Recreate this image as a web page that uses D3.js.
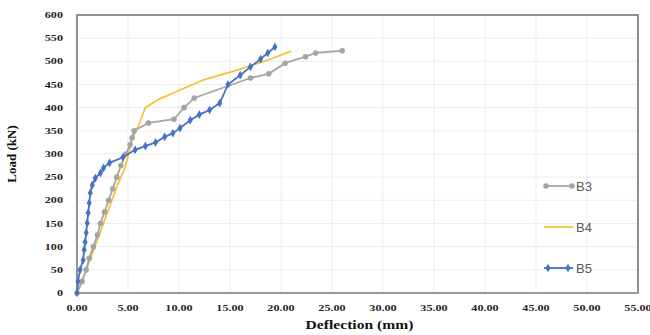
<!DOCTYPE html>
<html>
<head>
<meta charset="utf-8">
<script src="https://cdn.jsdelivr.net/npm/d3@7"></script>
<style>
  body { margin: 0; background: #fff; }
  svg { display: block; }
</style>
</head>
<body>
<div id="chart"></div>
<script>
// Load-deflection data
var b3Defl = [0, 0.5, 0.9, 1.2, 1.6, 2.0, 2.3, 2.7, 3.1, 3.5, 3.9, 4.3, 4.8, 5.2, 5.4, 5.6, 7.0, 9.5, 10.5, 11.5, 17.0, 18.8, 20.4, 22.4, 23.4, 26.0];
var b3Load = [0, 25, 50, 75, 100, 125, 150, 175, 200, 225, 250, 275, 300, 320, 335, 350, 367, 375, 400, 421, 464, 473, 496, 510, 518, 523];

var b4Defl = [0, 1, 2, 3, 4, 4.7, 5.4, 6.0, 6.7, 8, 10, 12.4, 15.7, 19, 21];
var b4Load = [0, 55, 115, 175, 235, 270, 330, 360, 400, 418, 437, 460, 481, 505, 522];

var b5Defl = [0, 0.1, 0.3, 0.6, 0.7, 0.8, 0.9, 1.0, 1.1, 1.2, 1.3, 1.5, 1.8, 2.3, 2.6, 3.2, 4.5, 5.7, 6.7, 7.7, 8.6, 9.4, 10.1, 11.1, 12.0, 13.0, 14.0, 14.8, 16.0, 17.0, 18.0, 18.7, 19.4];
var b5Load = [0, 25, 50, 71, 93, 110, 130, 151, 173, 194, 216, 233, 248, 259, 270, 281, 293, 309, 317, 325, 337, 345, 356, 373, 385, 395, 410, 450, 470, 488, 505, 518, 531];

var xTicks = [0, 5, 10, 15, 20, 25, 30, 35, 40, 45, 50, 55];
var yTicks = [0, 50, 100, 150, 200, 250, 300, 350, 400, 450, 500, 550, 600];
var seriesNames = ["B3", "B4", "B5"];

var width = 650, height = 335;
var pLeft = 77, pRight = 638, pTop = 15, pBottom = 293;

var svg = d3.select("#chart").append("svg")
  .attr("width", width)
  .attr("height", height);

var x = d3.scaleLinear().domain([0, 55]).range([pLeft, pRight]);
var y = d3.scaleLinear().domain([0, 600]).range([pBottom, pTop]);

// grid
svg.append("g").selectAll("line")
  .data(xTicks.slice(1, -1)).enter().append("line")
  .attr("x1", d => x(d)).attr("x2", d => x(d))
  .attr("y1", pTop).attr("y2", pBottom)
  .attr("stroke", "#ededed").attr("stroke-width", 1);
svg.append("g").selectAll("line")
  .data(yTicks.slice(1, -1)).enter().append("line")
  .attr("x1", pLeft).attr("x2", pRight)
  .attr("y1", d => y(d)).attr("y2", d => y(d))
  .attr("stroke", "#ededed").attr("stroke-width", 1);

// frame
svg.append("rect")
  .attr("x", pLeft).attr("y", pTop)
  .attr("width", pRight - pLeft).attr("height", pBottom - pTop)
  .attr("fill", "none").attr("stroke", "#6e6e6e").attr("stroke-width", 1.5);
svg.append("line")
  .attr("x1", pLeft).attr("x2", pRight)
  .attr("y1", pBottom).attr("y2", pBottom)
  .attr("stroke", "#9a9a9a").attr("stroke-width", 2);

// axes labels (the picture's text is stretched sideways)
var tickFont = "Liberation Serif";
var stretch = 1.35;
svg.append("g").selectAll("text")
  .data(yTicks).enter().append("text")
  .attr("transform", d => "translate(" + (pLeft - 14) + "," + (y(d) + 3) + ") scale(" + stretch + ",1)")
  .attr("text-anchor", "end")
  .style("font-family", tickFont).style("font-weight", "bold")
  .style("font-size", "9px").attr("fill", "#222")
  .text(d => d);

svg.append("g").selectAll("text")
  .data(xTicks).enter().append("text")
  .attr("transform", d => "translate(" + x(d) + "," + (pBottom + 18) + ") scale(" + stretch + ",1)")
  .attr("text-anchor", "middle")
  .style("font-family", tickFont).style("font-weight", "bold")
  .style("font-size", "9px").attr("fill", "#222")
  .text(d => d3.format(".2f")(d));

svg.append("text")
  .attr("transform", "translate(" + ((pLeft + pRight) / 2 + 2) + ",329) scale(1.3,1)")
  .attr("text-anchor", "middle")
  .style("font-family", tickFont).style("font-weight", "bold")
  .style("font-size", "12px").attr("fill", "#111")
  .text("Deflection (mm)");

svg.append("text")
  .attr("transform", "translate(16," + ((pTop + pBottom) / 2) + ") rotate(-90)")
  .attr("text-anchor", "middle")
  .style("font-family", tickFont).style("font-weight", "bold")
  .style("font-size", "13px").attr("fill", "#111")
  .text("Load (kN)");

// series
var colors = { B3: "#a5a5a5", B4: "#f5c33b", B5: "#4472c4" };
var line = d3.line().x(d => x(d[0])).y(d => y(d[1]));

var b3 = d3.zip(b3Defl, b3Load);
var b4 = d3.zip(b4Defl, b4Load);
var b5 = d3.zip(b5Defl, b5Load);

svg.append("path").datum(b4)
  .attr("d", line).attr("fill", "none")
  .attr("stroke", colors.B4).attr("stroke-width", 1.8);

svg.append("path").datum(b3)
  .attr("d", line).attr("fill", "none")
  .attr("stroke", colors.B3).attr("stroke-width", 1.8);
svg.append("g").selectAll("circle")
  .data(b3).enter().append("circle")
  .attr("cx", d => x(d[0])).attr("cy", d => y(d[1]))
  .attr("r", 2.8).attr("fill", colors.B3);

svg.append("path").datum(b5)
  .attr("d", line).attr("fill", "none")
  .attr("stroke", colors.B5).attr("stroke-width", 1.8);
var diamond = d3.symbol().type(d3.symbolDiamond).size(22);
svg.append("g").selectAll("path")
  .data(b5).enter().append("path")
  .attr("d", diamond)
  .attr("transform", d => "translate(" + x(d[0]) + "," + y(d[1]) + ")")
  .attr("fill", colors.B5);

// legend
var legY = { B3: 186, B4: 227, B5: 268 };
var lg = svg.append("g");
seriesNames.forEach(function(name) {
  var yy = legY[name];
  lg.append("line")
    .attr("x1", 544).attr("x2", 573).attr("y1", yy).attr("y2", yy)
    .attr("stroke", colors[name]).attr("stroke-width", 1.8);
  if (name === "B3") {
    [546, 572].forEach(function(cx) {
      lg.append("circle").attr("cx", cx).attr("cy", yy).attr("r", 2.8).attr("fill", colors.B3);
    });
  }
  if (name === "B5") {
    [548, 568].forEach(function(cx) {
      lg.append("path").attr("d", diamond)
        .attr("transform", "translate(" + cx + "," + yy + ")")
        .attr("fill", colors.B5);
    });
  }
  lg.append("text")
    .attr("x", 576).attr("y", yy + 5)
    .style("font-family", "Liberation Sans")
    .style("font-size", "13px").attr("fill", "#595959")
    .text(name);
});
</script>
</body>
</html>
